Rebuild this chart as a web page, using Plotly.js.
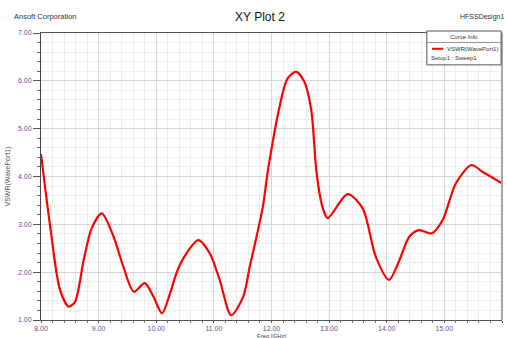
<!DOCTYPE html>
<html>
<head>
<meta charset="utf-8">
<script src="https://cdn.plot.ly/plotly-3.0.1.min.js"></script>
<style>
html,body{margin:0;padding:0;background:#fff;}
#chart{width:507px;height:338px;}
</style>
</head>
<body>
<div id="chart"></div>
<script>
const freqGHz = [8.00, 8.16, 8.33, 8.48, 8.59, 8.74, 8.88, 9.055, 9.26, 9.43, 9.61, 9.80, 9.95, 10.10, 10.24, 10.35, 10.47, 10.73, 10.93, 11.10, 11.30, 11.51, 11.62, 11.74, 11.85, 11.94, 12.14, 12.28, 12.43, 12.57, 12.69, 12.78, 12.88, 12.975, 13.32, 13.58, 13.81, 14.04, 14.22, 14.39, 14.56, 14.78, 14.97, 15.20, 15.47, 15.66, 16.00];
const vswr = [4.47, 2.95, 1.63, 1.28, 1.38, 2.25, 2.92, 3.23, 2.74, 2.11, 1.59, 1.77, 1.49, 1.14, 1.56, 1.98, 2.29, 2.67, 2.39, 1.84, 1.10, 1.49, 2.10, 2.74, 3.37, 4.14, 5.46, 6.05, 6.19, 5.98, 5.39, 4.10, 3.38, 3.13, 3.63, 3.34, 2.32, 1.84, 2.25, 2.74, 2.88, 2.81, 3.09, 3.86, 4.24, 4.10, 3.86];
const xTickVals = [8, 9, 10, 11, 12, 13, 14, 15, 16];
const yTickVals = [1, 2, 3, 4, 5, 6, 7];
const seriesName = "VSWR(WavePort1)";
const setupName = "Setup1 : Sweep1";

const tickColor = '#5e5390';
const fontFam = 'Liberation Sans, Arial, sans-serif';

const trace = {
  x: freqGHz, y: vswr, type: 'scatter', mode: 'lines',
  name: seriesName,
  line: {color: '#ff0000', width: 2.2, shape: 'spline', smoothing: 0.8},
  hoverinfo: 'x+y'
};

const layout = {
  width: 507, height: 338,
  margin: {l: 41, r: 5, t: 33, b: 18},
  paper_bgcolor: '#ffffff', plot_bgcolor: '#ffffff',
  showlegend: false,
  font: {family: fontFam, size: 7, color: tickColor},
  xaxis: {
    range: [8, 16], tickvals: xTickVals, tickformat: '.2f',
    ticks: 'outside', ticklen: 2, tickcolor: '#555',
    showline: true, linecolor: '#555', linewidth: 1, mirror: true,
    showgrid: true, gridcolor: '#d6d6d6', gridwidth: 1,
    zeroline: false,
    tickfont: {size: 7, color: tickColor},
    minor: {dtick: 0.2, showgrid: true, gridcolor: '#eeeeee', ticks: 'outside', ticklen: 2, tickcolor: '#777'},
    automargin: false
  },
  yaxis: {
    range: [1, 7], tickvals: yTickVals, tickformat: '.2f',
    ticks: 'outside', ticklen: 7, tickcolor: '#555',
    showline: true, linecolor: '#444', linewidth: 1,
    showgrid: true, gridcolor: '#d6d6d6', gridwidth: 1,
    zeroline: false,
    tickfont: {size: 7, color: tickColor},
    minor: {dtick: 0.2, showgrid: true, gridcolor: '#eeeeee', ticks: 'outside', ticklen: 3, tickcolor: '#666'},
    title: {text: seriesName, font: {size: 7, color: '#555'}, standoff: 6},
    automargin: false
  },
  shapes: [
    {type: 'line', xref: 'paper', yref: 'paper', x0: 1, x1: 1, y0: 0, y1: 1, line: {color: '#a8a8a8', width: 2}},
    {type: 'rect', xref: 'paper', yref: 'paper', x0: 0.837, x1: 0.998, y0: 0.889, y1: 1.007, line: {color: '#555', width: 1}, fillcolor: '#ffffff'},
    {type: 'line', xref: 'paper', yref: 'paper', x0: 0.837, x1: 0.998, y0: 0.967, y1: 0.967, line: {color: '#777', width: 0.8}},
    {type: 'line', xref: 'paper', yref: 'paper', x0: 0.848, x1: 0.872, y0: 0.945, y1: 0.945, line: {color: '#ff0000', width: 2}}
  ],
  annotations: [
    {text: 'XY Plot 2', xref: 'paper', yref: 'paper', x: 0.475, y: 1.056, showarrow: false, xanchor: 'center', yanchor: 'middle', font: {size: 12, color: '#111', family: fontFam}},
    {text: 'Ansoft Corporation', xref: 'paper', yref: 'paper', x: -0.063, y: 1.056, showarrow: false, xanchor: 'left', yanchor: 'middle', font: {size: 7.5, color: '#333', family: fontFam}},
    {text: 'HFSSDesign1', xref: 'paper', yref: 'paper', x: 1.009, y: 1.056, showarrow: false, xanchor: 'right', yanchor: 'middle', font: {size: 7, color: '#333', family: fontFam}},
    {text: 'Freq [GHz]', xref: 'paper', yref: 'paper', x: 0.502, y: -0.0545, showarrow: false, xanchor: 'center', yanchor: 'middle', font: {size: 6, color: '#444', family: fontFam}},
    {text: 'Curve Info', xref: 'paper', yref: 'paper', x: 0.9175, y: 0.987, showarrow: false, xanchor: 'center', yanchor: 'middle', font: {size: 6, color: '#333', family: fontFam}},
    {text: seriesName, xref: 'paper', yref: 'paper', x: 0.877, y: 0.945, showarrow: false, xanchor: 'left', yanchor: 'middle', font: {size: 6, color: '#333', family: fontFam}},
    {text: setupName, xref: 'paper', yref: 'paper', x: 0.842, y: 0.913, showarrow: false, xanchor: 'left', yanchor: 'middle', font: {size: 6, color: '#333', family: fontFam}}
  ]
};

Plotly.newPlot('chart', [trace], layout, {displayModeBar: false, staticPlot: true});
</script>
</body>
</html>
